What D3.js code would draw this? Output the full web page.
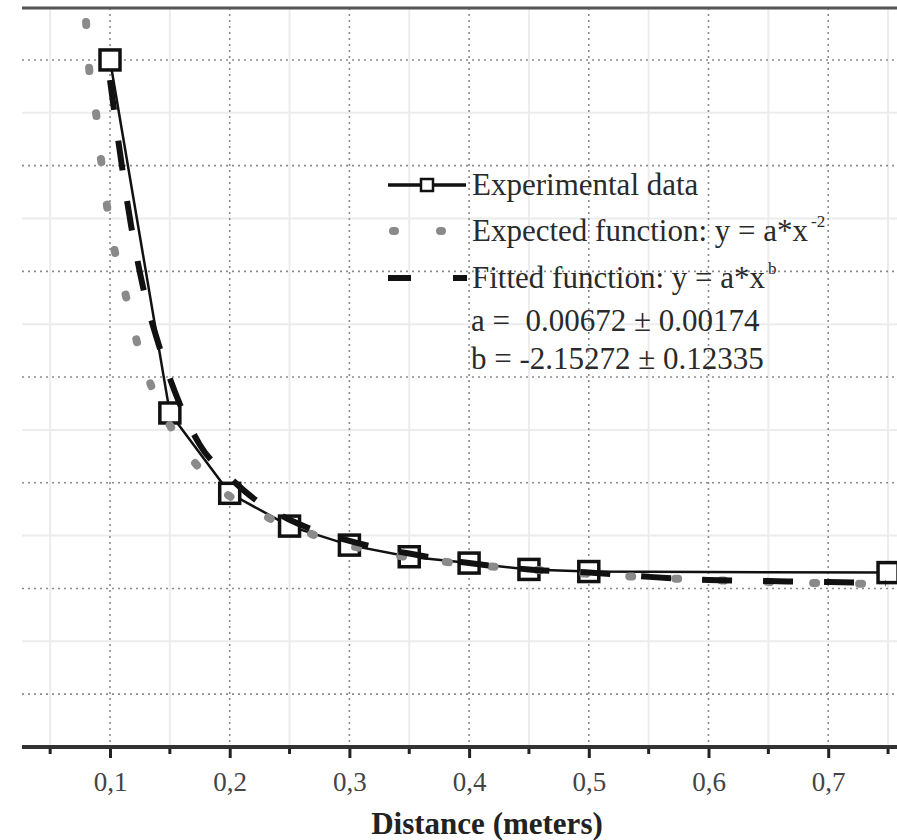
<!DOCTYPE html>
<html>
<head>
<meta charset="utf-8">
<script src="https://cdnjs.cloudflare.com/ajax/libs/d3/7.8.5/d3.min.js"></script>
<style>
    body { margin: 0; background: #fff; }
    svg { display: block; }
    text { font-family: "Liberation Serif", "DejaVu Serif", serif; }
</style>
</head>
<body>
<div id="chart"></div>
<script>
var distances = [0.10, 0.15, 0.20, 0.25, 0.30, 0.35, 0.40, 0.45, 0.50, 0.75];
var experimental = [0.700, 0.366, 0.290, 0.259, 0.241, 0.230, 0.224, 0.218, 0.216, 0.215];

// expected curve y = a*x^-2
var expectedX = [0.080, 0.0825, 0.0883, 0.0925, 0.0975, 0.104, 0.113, 0.1226, 0.135, 0.156, 0.1835, 0.2253, 0.267, 0.317, 0.3815, 0.451, 0.540, 0.657, 0.752];
var expectedY = [0.736, 0.693, 0.650, 0.606, 0.562, 0.519, 0.478, 0.433, 0.390, 0.343, 0.303, 0.271, 0.252, 0.236, 0.225, 0.218, 0.211, 0.206, 0.204];

// fitted curve y = a*x^b
var fittedX = [0.100, 0.108, 0.1175, 0.1276, 0.142, 0.1585, 0.175, 0.200, 0.225, 0.25, 0.30, 0.35, 0.40, 0.45, 0.50, 0.55, 0.60, 0.65, 0.70, 0.748];
var fittedY = [0.681, 0.615, 0.544, 0.485, 0.426, 0.374, 0.336, 0.305, 0.281, 0.265, 0.245, 0.233, 0.224, 0.218, 0.215, 0.211, 0.208, 0.207, 0.206, 0.205];

var majorTicks = [0.1, 0.2, 0.3, 0.4, 0.5, 0.6, 0.7];
var minorTicks = [0.05, 0.15, 0.25, 0.35, 0.45, 0.55, 0.65, 0.75];
var yMajor = [0.1, 0.2, 0.3, 0.4, 0.5, 0.6, 0.7];
var yMinor = [0.15, 0.25, 0.35, 0.45, 0.55, 0.65];

var legendLabels = ['Experimental data', 'Expected function: y = a*x', 'Fitted function: y = a*x'];
var legendSup = ['', '-2', 'b'];
var fitParams = ['a =  0.00672 \u00b1 0.00174', 'b = -2.15272 \u00b1 0.12335'];
var xTitle = 'Distance (meters)';

(function()
{
    var width = 897, height = 840;
    var plotLeft = 22, plotRight = 897, plotTop = 8, plotBottom = 747;

    var svg = d3.select('#chart').append('svg')
        .attr('width', width)
        .attr('height', height);

    var x = d3.scaleLinear().domain([0.1, 0.7]).range([110, 828.2]);
    var y = d3.scaleLinear().domain([0.05, 0.75]).range([plotBottom, 7.1]);

    svg.append('defs').append('clipPath').attr('id', 'plotClip')
        .append('rect')
        .attr('x', plotLeft).attr('y', plotTop)
        .attr('width', plotRight - plotLeft).attr('height', plotBottom - plotTop);

    var grid = svg.append('g');

    // light minor grid
    grid.selectAll('.vminor').data(minorTicks).enter().append('line')
        .attr('x1', function(d) { return x(d); })
        .attr('x2', function(d) { return x(d); })
        .attr('y1', plotTop).attr('y2', plotBottom)
        .attr('stroke', '#ececec').attr('stroke-width', 2);

    grid.selectAll('.hminor').data(yMinor).enter().append('line')
        .attr('x1', plotLeft).attr('x2', plotRight)
        .attr('y1', function(d) { return y(d); })
        .attr('y2', function(d) { return y(d); })
        .attr('stroke', '#ececec').attr('stroke-width', 2);

    // dotted major grid
    grid.selectAll('.vmajor').data(majorTicks).enter().append('line')
        .attr('x1', function(d) { return x(d); })
        .attr('x2', function(d) { return x(d); })
        .attr('y1', plotTop).attr('y2', plotBottom)
        .attr('stroke', '#8c8c8c').attr('stroke-width', 1.6)
        .attr('stroke-dasharray', '2,4');

    grid.selectAll('.hmajor').data(yMajor).enter().append('line')
        .attr('x1', plotLeft).attr('x2', plotRight)
        .attr('y1', function(d) { return y(d); })
        .attr('y2', function(d) { return y(d); })
        .attr('stroke', '#8c8c8c').attr('stroke-width', 1.6)
        .attr('stroke-dasharray', '2,4');

    var plot = svg.append('g').attr('clip-path', 'url(#plotClip)');

    var expData = distances.map(function(d, i) { return [d, experimental[i]]; });
    var expectedData = expectedX.map(function(d, i) { return [d, expectedY[i]]; });
    var fittedData = fittedX.map(function(d, i) { return [d, fittedY[i]]; });

    var straight = d3.line()
        .x(function(d) { return x(d[0]); })
        .y(function(d) { return y(d[1]); });

    var smooth = d3.line()
        .curve(d3.curveMonotoneX)
        .x(function(d) { return x(d[0]); })
        .y(function(d) { return y(d[1]); });

    plot.append('path')
        .attr('d', straight(expData))
        .attr('fill', 'none')
        .attr('stroke', '#111')
        .attr('stroke-width', 2.5);

    var sq = 20;
    plot.selectAll('.square').data(expData).enter().append('rect')
        .classed('square', true)
        .attr('x', function(d) { return x(d[0]) - sq / 2; })
        .attr('y', function(d) { return y(d[1]) - sq / 2; })
        .attr('width', sq).attr('height', sq)
        .attr('fill', '#fff')
        .attr('stroke', '#111')
        .attr('stroke-width', 3.5);

    plot.append('path')
        .attr('d', smooth(expectedData))
        .attr('fill', 'none')
        .attr('stroke', '#8a8a8a')
        .attr('stroke-width', 8)
        .attr('stroke-linecap', 'round')
        .attr('stroke-dasharray', '3,43');

    plot.append('path')
        .attr('d', smooth(fittedData))
        .attr('fill', 'none')
        .attr('stroke', '#111')
        .attr('stroke-width', 6)
        .attr('stroke-dasharray', '30,31');

    // frame and x axis
    svg.append('line')
        .attr('x1', plotLeft).attr('x2', plotRight).attr('y1', plotTop).attr('y2', plotTop)
        .attr('stroke', '#555').attr('stroke-width', 3);

    var axis = d3.axisBottom(x)
        .tickValues(majorTicks)
        .tickSize(11)
        .tickPadding(14)
        .tickFormat(function(d) { return d3.format('.1f')(d).replace('.', ','); });

    var axisG = svg.append('g')
        .attr('transform', 'translate(0,' + plotBottom + ')')
        .call(axis);

    axisG.select('.domain').remove();
    axisG.selectAll('.tick line').attr('stroke', '#222').attr('stroke-width', 3);
    axisG.selectAll('.tick text')
        .attr('font-family', '"Liberation Serif", serif')
        .attr('font-size', 27)
        .attr('fill', '#444');

    axisG.selectAll('.minor').data(minorTicks).enter().append('line')
        .attr('x1', function(d) { return x(d); })
        .attr('x2', function(d) { return x(d); })
        .attr('y1', 0).attr('y2', 7)
        .attr('stroke', '#222').attr('stroke-width', 3);

    axisG.append('line')
        .attr('x1', plotLeft).attr('x2', plotRight).attr('y1', 0).attr('y2', 0)
        .attr('stroke', '#333').attr('stroke-width', 4);

    svg.append('text')
        .attr('x', 487).attr('y', 834)
        .attr('text-anchor', 'middle')
        .attr('font-size', 31)
        .attr('font-weight', 'bold')
        .attr('fill', '#222')
        .text(xTitle);

    // legend
    var legend = svg.append('g').attr('transform', 'translate(388,0)');
    var rowY = [185, 231, 278];
    var textX = 84;

    legend.append('line')
        .attr('x1', 0).attr('x2', 78).attr('y1', rowY[0]).attr('y2', rowY[0])
        .attr('stroke', '#111').attr('stroke-width', 3.5);
    legend.append('rect')
        .attr('x', 33).attr('y', rowY[0] - 6).attr('width', 12).attr('height', 12)
        .attr('fill', '#fff').attr('stroke', '#111').attr('stroke-width', 2.5);

    legend.append('line')
        .attr('x1', 5).attr('x2', 80).attr('y1', rowY[1]).attr('y2', rowY[1])
        .attr('stroke', '#8a8a8a').attr('stroke-width', 8)
        .attr('stroke-linecap', 'round')
        .attr('stroke-dasharray', '2,45');

    legend.append('line')
        .attr('x1', 0).attr('x2', 79).attr('y1', rowY[2]).attr('y2', rowY[2])
        .attr('stroke', '#111').attr('stroke-width', 6)
        .attr('stroke-dasharray', '23,42');

    legendLabels.forEach(function(label, i)
    {
        var t = legend.append('text')
            .attr('x', textX).attr('y', rowY[i] + 10)
            .attr('font-size', 31)
            .attr('fill', '#2a2a2a')
            .text(label);
        if(legendSup[i])
        {
            t.append('tspan')
                .attr('dy', -14)
                .attr('dx', 3)
                .attr('font-size', 17)
                .text(legendSup[i]);
        }
    });

    fitParams.forEach(function(line, i)
    {
        legend.append('text')
            .attr('x', textX - 1).attr('y', 331 + i * 38)
            .attr('font-size', 31)
            .attr('fill', '#2a2a2a')
            .style('white-space', 'pre')
            .text(line);
    });
})();
</script>
</body>
</html>
